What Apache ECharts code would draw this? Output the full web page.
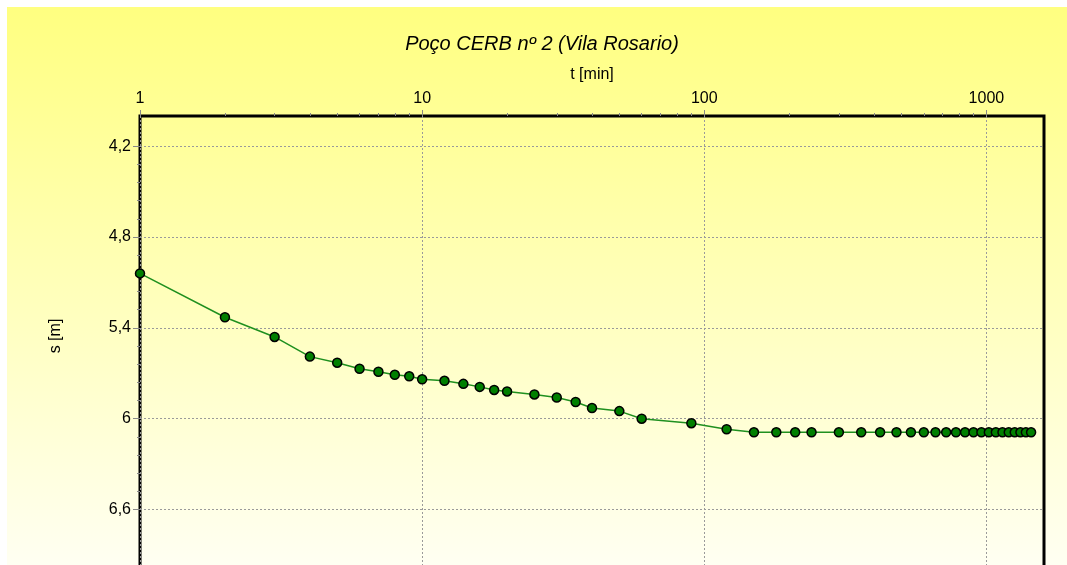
<!DOCTYPE html>
<html>
<head>
<meta charset="utf-8">
<script src="https://cdn.jsdelivr.net/npm/echarts@6/dist/echarts.min.js"></script>
<style>
html,body{margin:0;padding:0;background:#fff;overflow:hidden;width:1067px;height:565px;}
#c{position:absolute;left:7px;top:7px;width:1060px;height:568px;}
</style>
</head>
<body>
<div id="c"></div>
<script>
// time in minutes
const timeMin = [1,2,3,4,5,6,7,8,9,10,12,14,16,18,20,25,30,35,40,50,60,90,120,
  150,180,210,240,300,360,420,480,540,600,660,720,780,840,900,960,1020,1080,1140,1200,1260,1320,1380,1440];
// drawdown s [m]
const drawdown = [5.04,5.33,5.46,5.59,5.63,5.67,5.69,5.71,5.72,5.74,5.75,5.77,5.79,5.81,5.82,5.84,5.86,5.89,5.93,5.95,6.00,6.03,6.07,
  6.09,6.09,6.09,6.09,6.09,6.09,6.09,6.09,6.09,6.09,6.09,6.09,6.09,6.09,6.09,6.09,6.09,6.09,6.09,6.09,6.09,6.09,6.09,6.09];
const xMajorTicks = [1,10,100,1000];
const xGridValues = [10,100,1000];
const xMinorTicks = [2,3,4,5,6,7,8,9,20,30,40,50,60,70,80,90,200,300,400,500,600,700,800,900];
const yMajorTicks = [4.2,4.8,5.4,6.0,6.6];
const yMinorTicks = [4.32,4.44,4.56,4.68,4.92,5.04,5.16,5.28,5.52,5.64,5.76,5.88,6.12,6.24,6.36,6.48];
const titleText = 'Poço CERB nº 2 (Vila Rosario)';
const xName = 't [min]';
const yName = 's [m]';

const FONT = 'Liberation Sans, Arial, Helvetica, sans-serif';
const chart = echarts.init(document.getElementById('c'), null, {renderer: 'canvas'});
const points = timeMin.map((t, i) => [t, drawdown[i]]);
const gridLine = {show: true, lineStyle: {color: '#9a9a9a', type: [2, 2], width: 1}};

chart.setOption({
  animation: false,
  backgroundColor: {
    type: 'linear', x: 0, y: 0, x2: 0, y2: 1,
    colorStops: [{offset: 0, color: '#ffff80'}, {offset: 1, color: '#fffff4'}]
  },
  title: {
    text: titleText, left: 530, top: 22, textAlign: 'center',
    textStyle: {fontFamily: FONT, fontStyle: 'italic', fontWeight: 'normal', fontSize: 20, color: '#000'}
  },
  grid: {left: 133, top: 109, right: 23, bottom: 5, show: true, borderColor: '#000', borderWidth: 3, backgroundColor: 'transparent'},
  xAxis: [{
    type: 'log', logBase: 10, min: 1, max: 1600, position: 'top',
    name: xName, nameLocation: 'middle', nameGap: 33,
    nameTextStyle: {fontFamily: FONT, fontSize: 16, color: '#000'},
    axisLine: {show: false},
    axisTick: {show: true, customValues: xMajorTicks, length: 6, lineStyle: {color: '#888'}},
    axisLabel: {customValues: xMajorTicks, fontFamily: FONT, fontSize: 16, color: '#000', margin: 9,
      formatter: v => String(Math.round(v))},
    splitLine: Object.assign({customValues: xGridValues}, gridLine),
    minorTick: {show: false}
  }, {
    type: 'log', logBase: 10, min: 1, max: 1600, position: 'top',
    axisLine: {show: false},
    axisTick: {show: true, customValues: xMinorTicks, length: 3, lineStyle: {color: '#888'}},
    axisLabel: {show: false},
    splitLine: {show: false}
  }],
  yAxis: [{
    type: 'value', inverse: true, min: 4.0, max: 7.0,
    name: yName, nameLocation: 'middle', nameGap: 76, nameRotate: 90,
    nameTextStyle: {fontFamily: FONT, fontSize: 16, color: '#000', padding: [0, 0, 0, 14]},
    axisLine: {show: false},
    axisTick: {show: true, customValues: yMajorTicks, length: 7, lineStyle: {color: '#888'}},
    axisLabel: {customValues: yMajorTicks, fontFamily: FONT, fontSize: 16, color: '#000', margin: 9,
      formatter: v => String(+v.toFixed(2)).replace('.', ',')},
    splitLine: Object.assign({customValues: yMajorTicks}, gridLine)
  }, {
    type: 'value', inverse: true, min: 4.0, max: 7.0, position: 'left',
    axisLine: {show: false},
    axisTick: {show: true, customValues: yMinorTicks, length: 3, lineStyle: {color: '#888'}},
    axisLabel: {show: false},
    splitLine: {show: false}
  }],
  series: [{
    type: 'line', xAxisIndex: 0, yAxisIndex: 0, data: points,
    symbol: 'circle', symbolSize: 9,
    lineStyle: {color: '#1f901f', width: 1.5},
    itemStyle: {color: '#007f00', borderColor: '#000', borderWidth: 1.5},
    z: 5
  }]
});
</script>
</body>
</html>
